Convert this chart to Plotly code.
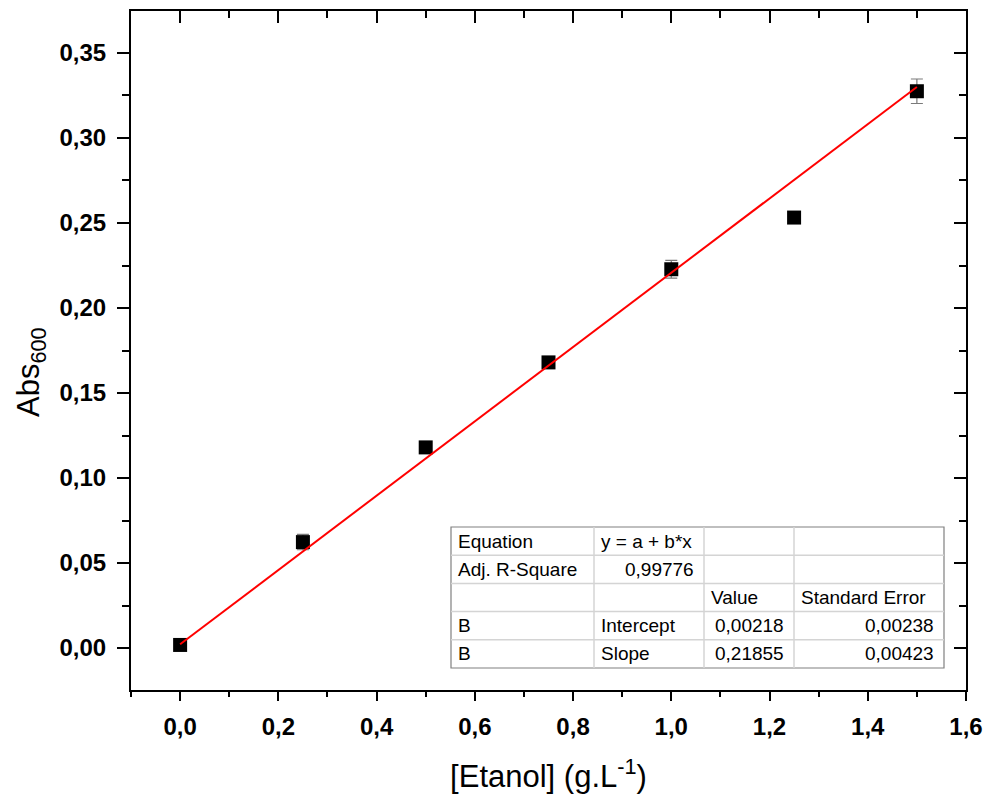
import plotly.graph_objects as go

# ---- data ----
conc = [0.0, 0.25, 0.5, 0.75, 1.0, 1.25, 1.5]
absorb = [0.0018, 0.0623, 0.118, 0.168, 0.2228, 0.2532, 0.3275]
err = [0.0005, 0.0045, 0.0005, 0.0005, 0.0052, 0.0005, 0.0072]

intercept = 0.00218
slope = 0.21855
fit_x = [0.0, 1.5]
fit_y = [intercept + slope * v for v in fit_x]

table_rows = [
    ["Equation", "y = a + b*x", "", ""],
    ["Adj. R-Square", "0,99776", "", ""],
    ["", "", "Value", "Standard Error"],
    ["B", "Intercept", "0,00218", "0,00238"],
    ["B", "Slope", "0,21855", "0,00423"],
]
table_align = [
    ["left", "left", "left", "left"],
    ["left", "right", "left", "left"],
    ["left", "left", "left", "left"],
    ["left", "left", "right", "right"],
    ["left", "left", "right", "right"],
]

# ---- layout geometry (pixels) ----
W, H = 990, 796
L, R, T, B = 131, 966, 11, 690

def px(x):
    return (x - L) / (R - L)

def py(y):
    return (B - y) / (B - T)

fig = go.Figure()

fig.add_trace(go.Scatter(
    x=conc, y=absorb, mode="markers",
    marker=dict(symbol="square", size=14, color="black"),
    error_y=dict(type="data", array=err, color="#7a7a7a", thickness=1.2, width=6),
    showlegend=False,
))
fig.add_trace(go.Scatter(
    x=fit_x, y=fit_y, mode="lines",
    line=dict(color="#ff0000", width=2),
    showlegend=False,
))
# dummy trace for mirrored axes
fig.add_trace(go.Scatter(x=[None], y=[None], xaxis="x2", yaxis="y2", showlegend=False))

xr = [-0.1, 1.6]
yr = [-0.0247, 0.3747]
tickfont = dict(family="Liberation Sans, Arial", size=24, color="black", weight="bold")
titlefont = dict(family="Liberation Sans, Arial", size=31, color="black")

fig.update_layout(
    width=W, height=H,
    margin=dict(l=L, r=W - R, t=T, b=H - B, autoexpand=False),
    paper_bgcolor="white", plot_bgcolor="white",
    separators=", ",
    font=dict(family="Liberation Sans, Arial", color="black"),
    xaxis=dict(
        range=xr, dtick=0.2, tick0=0, tickformat=".1f",
        ticks="outside", ticklen=9, tickwidth=2, tickcolor="black",
        showline=True, linecolor="black", linewidth=2,
        showgrid=False, zeroline=False, tickfont=tickfont, ticklabelstandoff=5,
        minor=dict(dtick=0.1, tick0=0, ticks="outside", ticklen=5, tickwidth=2, tickcolor="black", showgrid=False),
        title=dict(text="[Etanol] (g.L<sup>-1</sup>)", font=titlefont, standoff=27),
    ),
    yaxis=dict(
        range=yr, dtick=0.05, tick0=0, tickformat=".2f",
        ticks="outside", ticklen=12, tickwidth=2, tickcolor="black",
        showline=True, linecolor="black", linewidth=2,
        showgrid=False, zeroline=False, tickfont=tickfont, ticklabelstandoff=6,
        minor=dict(dtick=0.025, tick0=0, ticks="outside", ticklen=7, tickwidth=2, tickcolor="black", showgrid=False),
    ),
    xaxis2=dict(
        overlaying="x", side="top", range=xr, dtick=0.2, tick0=0,
        ticks="inside", ticklen=12, tickwidth=2, tickcolor="black",
        showline=True, linecolor="black", linewidth=2,
        showgrid=False, zeroline=False, showticklabels=False,
        minor=dict(dtick=0.1, tick0=0, ticks="inside", ticklen=7, tickwidth=2, tickcolor="black", showgrid=False),
    ),
    yaxis2=dict(
        overlaying="y", side="right", range=yr, dtick=0.05, tick0=0,
        ticks="inside", ticklen=12, tickwidth=2, tickcolor="black",
        showline=True, linecolor="black", linewidth=2,
        showgrid=False, zeroline=False, showticklabels=False,
        minor=dict(dtick=0.025, tick0=0, ticks="inside", ticklen=7, tickwidth=2, tickcolor="black", showgrid=False),
    ),
)

# ---- results table ----
col_edges = [451, 594, 704, 794, 944]
row_top, row_h = 527, 28.2
nrows = len(table_rows)
shapes = []
shapes.append(dict(type="rect", xref="paper", yref="paper",
                   x0=px(col_edges[0]), x1=px(col_edges[-1]),
                   y0=py(row_top + nrows * row_h), y1=py(row_top),
                   fillcolor="white", line=dict(color="#808080", width=1.2), layer="above"))
for i in range(1, nrows):
    yy = py(row_top + i * row_h)
    shapes.append(dict(type="line", xref="paper", yref="paper",
                       x0=px(col_edges[0]), x1=px(col_edges[-1]), y0=yy, y1=yy,
                       line=dict(color="#d4d4d4", width=1.5), layer="above"))
for c in col_edges[1:-1]:
    shapes.append(dict(type="line", xref="paper", yref="paper",
                       x0=px(c), x1=px(c), y0=py(row_top), y1=py(row_top + nrows * row_h),
                       line=dict(color="#d4d4d4", width=1.5), layer="above"))
fig.update_layout(shapes=shapes)

annotations = []
for r, row in enumerate(table_rows):
    yc = py(row_top + (r + 0.5) * row_h)
    for c, txt in enumerate(row):
        if not txt:
            continue
        al = table_align[r][c]
        if al == "left":
            xx, anchor = px(col_edges[c] + 5), "left"
        else:
            xx, anchor = px(col_edges[c + 1] - 8), "right"
        annotations.append(dict(text=txt, x=xx, y=yc, xref="paper", yref="paper",
                                xanchor=anchor, yanchor="middle", showarrow=False,
                                font=dict(family="Liberation Sans, Arial", size=19, color="black")))

# y-axis title (placed like the original, slightly below the axis centre)
annotations.append(dict(text="Abs<sub>600</sub>", textangle=-90, x=px(31), y=py(372),
                        xref="paper", yref="paper", xanchor="center", yanchor="middle",
                        showarrow=False, font=titlefont))
fig.update_layout(annotations=annotations)

fig.write_html("out.html", config={"displayModeBar": False},
               post_script="document.body.style.margin='0';")
